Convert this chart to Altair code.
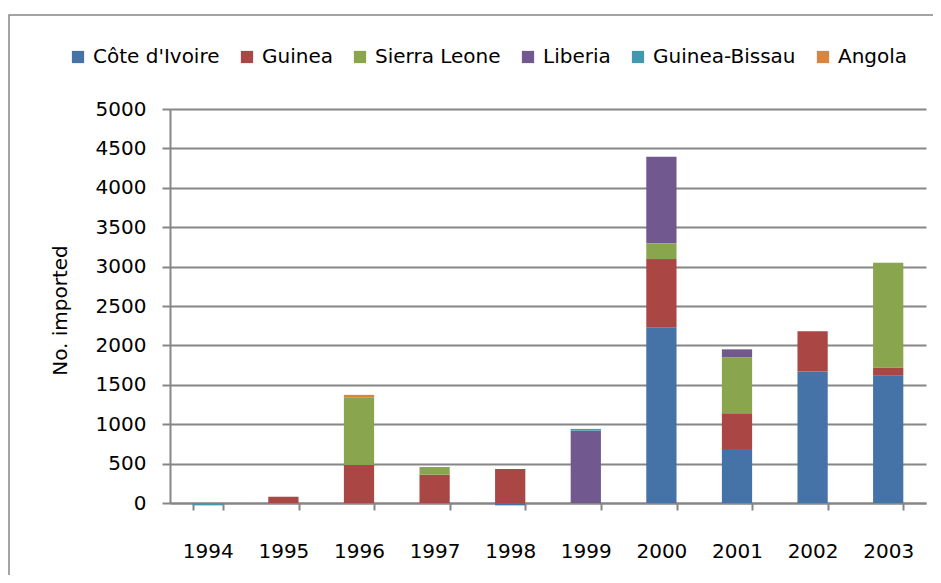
import altair as alt
import pandas as pd

years = ["1994", "1995", "1996", "1997", "1998", "1999", "2000", "2001", "2002", "2003"]
countries = ["Côte d'Ivoire", "Guinea", "Sierra Leone", "Liberia", "Guinea-Bissau", "Angola"]
colors = ["#4572A7", "#AA4643", "#89A54E", "#71588F", "#4198AF", "#DB843D"]

cote_divoire = [0, 0, 0, 0, -30, 0, 2230, 685, 1670, 1620]
guinea = [0, 80, 482, 360, 431, 0, 865, 455, 510, 100]
sierra_leone = [0, 0, 860, 97, 0, 0, 200, 710, 0, 1328]
liberia = [0, 0, 0, 0, 0, 918, 1100, 100, 0, 0]
guinea_bissau = [-30, 0, 0, 0, 0, 22, 0, 0, 0, 0]
angola = [0, 0, 30, 0, 0, 0, 0, 0, 0, 0]

series = [cote_divoire, guinea, sierra_leone, liberia, guinea_bissau, angola]

rows = []
for ci, (name, vals) in enumerate(zip(countries, series)):
    for y, v in zip(years, vals):
        if v != 0:
            rows.append({"year": y, "country": name, "value": v, "order": ci})
df = pd.DataFrame(rows)

FONT = "DejaVu Sans"
GRID = "#868686"
FS = 20

bars = alt.Chart(df).mark_bar(clip=False).encode(
    x=alt.X("year:N", sort=years, scale=alt.Scale(domain=years, paddingInner=0.6, paddingOuter=0.3),
            axis=alt.Axis(title=None, labelAngle=0, tickBand="extent", tickSize=7, tickWidth=2,
                          tickColor=GRID, domainColor=GRID, domainWidth=2, labelPadding=31,
                          labelFontSize=FS, labelFont=FONT, labelColor="black", grid=False)),
    y=alt.Y("value:Q", stack="zero",
            scale=alt.Scale(domain=[0, 5000], nice=False),
            axis=alt.Axis(title="No. imported", values=list(range(0, 5001, 500)), format="d",
                          tickSize=8, tickWidth=2, tickColor=GRID, domainColor=GRID, domainWidth=2,
                          gridColor=GRID, gridWidth=2, labelPadding=16, labelFontSize=FS,
                          labelFont=FONT, labelColor="black", titleFont=FONT, titleFontSize=FS,
                          titleFontWeight="normal", titleColor="black", titleAngle=-90,
                          titleX=-110, titleY=201, titleBaseline="middle", titleAlign="center")),
    color=alt.Color("country:N", scale=alt.Scale(domain=countries, range=colors),
                    legend=alt.Legend(title=None, orient="none", direction="horizontal",
                                      legendX=-102, legendY=-62, symbolType="square",
                                      symbolSize=150, symbolStrokeWidth=0, labelFontSize=FS,
                                      labelFont=FONT, labelColor="black", columnPadding=17,
                                      labelOffset=5)),
    order=alt.Order("order:Q"),
)

frame = alt.Chart(pd.DataFrame({"f": [0]})).mark_rect(fill=None, stroke="#868686", strokeWidth=1.5).encode(
    x=alt.value(-161), x2=alt.value(768), y=alt.value(-94), y2=alt.value(480)
)

chart = alt.layer(frame, bars).properties(
    width=756, height=394,
    padding={"left": 162, "top": 101, "right": 7, "bottom": 72},
    autosize=alt.AutoSizeParams(type="none"),
).configure_view(stroke=None)

chart.save("out.html", embed_options={"renderer": "svg", "actions": False})
